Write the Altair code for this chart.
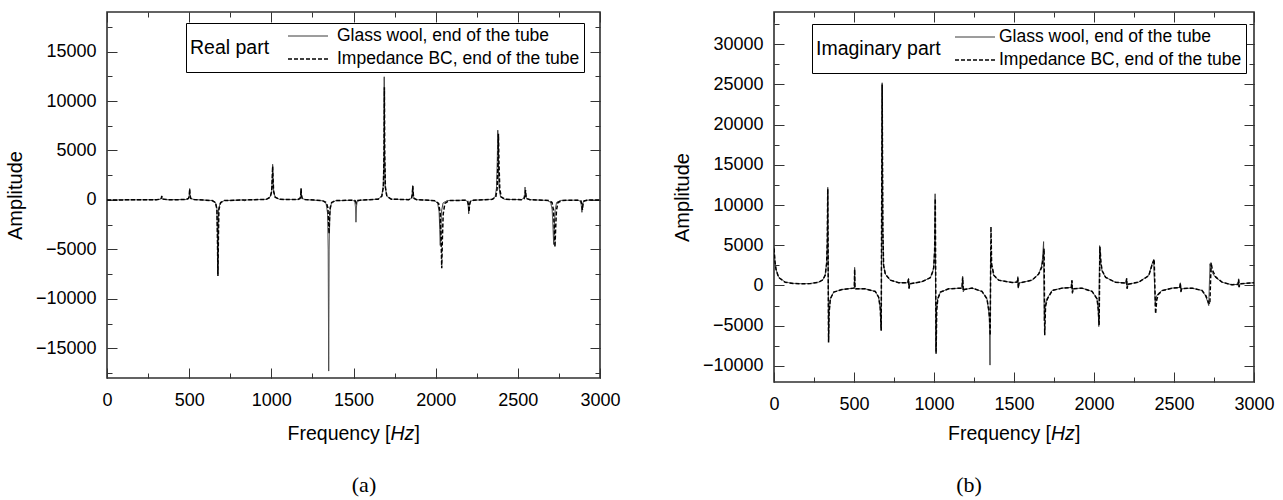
import altair as alt
import pandas as pd

SERIES = ["Glass wool, end of the tube", "Impedance BC, end of the tube"]

# axis tick positions
FREQ_MAJOR = [0, 500, 1000, 1500, 2000, 2500, 3000]
FREQ_MINOR = [0, 250, 500, 750, 1000, 1250, 1500, 1750, 2000, 2250, 2500, 2750, 3000]
RE_MAJOR = [-15000, -10000, -5000, 0, 5000, 10000, 15000]
RE_MINOR = [-17500, -15000, -12500, -10000, -7500, -5000, -2500, 0, 2500,
            5000, 7500, 10000, 12500, 15000, 17500]
IM_MAJOR = [-10000, -5000, 0, 5000, 10000, 15000, 20000, 25000, 30000]
IM_MINOR = [-10000, -7500, -5000, -2500, 0, 2500, 5000, 7500, 10000, 12500, 15000,
            17500, 20000, 22500, 25000, 27500, 30000, 32500]

# (a) real part -- glass wool at the end of the tube
re_gw_f = [0, 300, 326, 331, 333, 335, 340, 370,
           480, 496, 501, 503, 505, 510, 530,
           640, 660, 669, 672, 674, 676, 679, 690, 715,
           828, 838, 848,
           970, 993, 1002, 1006, 1008, 1010, 1014, 1023, 1050,
           1160, 1175, 1179, 1181, 1183, 1188, 1205,
           1310, 1333, 1342, 1346, 1349, 1352, 1356, 1365, 1390,
           1495, 1508, 1512, 1515, 1518, 1522, 1540,
           1650, 1672, 1681, 1685, 1687, 1689, 1693, 1702, 1730,
           1835, 1852, 1857, 1860, 1863, 1868, 1885,
           1990, 2012, 2021, 2025, 2028, 2031, 2035, 2045, 2070,
           2180, 2193, 2198, 2201, 2204, 2210, 2228,
           2340, 2362, 2370, 2375, 2378, 2381, 2386, 2395, 2420,
           2520, 2535, 2541, 2544, 2547, 2553, 2570,
           2680, 2700, 2709, 2714, 2718, 2722, 2727, 2736, 2760,
           2865, 2880, 2886, 2890, 2894, 2900, 2920, 3000]
re_gw_a = [0, 20, 80, 200, 420, 200, 80, 20,
           40, 150, 500, 1150, 500, 150, 40,
           -60, -250, -900, -3500, -7500, -3500, -900, -250, -60,
           0, -80, 0,
           60, 300, 900, 2400, 3600, 2400, 900, 300, 60,
           40, 150, 500, 1200, 500, 150, 40,
           -80, -350, -1300, -5000, -17300, -5000, -1300, -350, -80,
           -30, -150, -700, -2250, -700, -150, -30,
           80, 380, 1400, 5000, 12450, 5000, 1400, 380, 80,
           30, 150, 550, 1450, 550, 150, 30,
           -60, -300, -1200, -3000, -4600, -3000, -1200, -300, -60,
           -30, -150, -600, -1400, -600, -150, -30,
           60, 300, 1200, 4000, 7050, 4000, 1200, 300, 60,
           30, 150, 550, 1300, 550, 150, 30,
           -50, -250, -1000, -2800, -4500, -2800, -1000, -250, -50,
           -20, -120, -500, -1250, -500, -120, -20, 0]

# (a) real part -- impedance boundary condition
re_bc_f = [0, 300, 326, 331, 333, 335, 340, 370,
           480, 496, 501, 503, 505, 510, 530,
           640, 660, 669, 672, 675, 678, 681, 692, 715,
           970, 993, 1002, 1006, 1008, 1010, 1014, 1023, 1050,
           1160, 1175, 1179, 1181, 1183, 1188, 1205,
           1310, 1335, 1344, 1348, 1351, 1354, 1358, 1367, 1390,
           1495, 1508, 1513, 1516, 1519, 1525, 1540,
           1650, 1672, 1682, 1686, 1688, 1690, 1694, 1703, 1730,
           1835, 1853, 1858, 1861, 1864, 1869, 1885,
           1995, 2018, 2028, 2033, 2037, 2041, 2046, 2056, 2080,
           2180, 2195, 2200, 2203, 2206, 2212, 2230,
           2345, 2366, 2374, 2379, 2382, 2385, 2390, 2399, 2425,
           2525, 2538, 2544, 2547, 2550, 2556, 2575,
           2690, 2708, 2717, 2722, 2726, 2730, 2735, 2744, 2770,
           2870, 2884, 2889, 2893, 2897, 2903, 2925, 3000]
re_bc_a = [0, 20, 80, 190, 380, 190, 80, 20,
           40, 150, 480, 1100, 480, 150, 40,
           -60, -260, -950, -3600, -7700, -3600, -950, -260, -60,
           60, 280, 850, 2300, 3400, 2300, 850, 280, 60,
           40, 150, 480, 1100, 480, 150, 40,
           -60, -250, -800, -2000, -3400, -2000, -800, -250, -60,
           -20, -60, -150, -300, -150, -60, -20,
           80, 370, 1300, 4600, 11400, 4600, 1300, 370, 80,
           30, 150, 530, 1400, 530, 150, 30,
           -70, -350, -1400, -3800, -6900, -3800, -1400, -350, -70,
           -30, -130, -500, -1200, -500, -130, -30,
           60, 300, 1150, 3800, 6700, 3800, 1150, 300, 60,
           30, 120, 420, 1000, 420, 120, 30,
           -50, -260, -1050, -2900, -4750, -2900, -1050, -260, -50,
           -20, -100, -400, -1000, -400, -100, -20, 0]

# (b) imaginary part -- glass wool at the end of the tube
im_gw_f = [0, 6, 13, 29, 70, 120, 175, 230, 280, 305, 320, 329, 333, 336, 341, 344, 352, 373, 425,
           497, 502, 504, 506, 510, 570, 633, 654, 664, 670, 676, 680, 685, 696, 727, 779,
           836, 841, 844, 848, 925, 977, 990, 998, 1004, 1007, 1012, 1016, 1023, 1040, 1092,
           1175, 1179, 1183, 1188, 1238, 1300, 1331, 1341, 1346, 1350, 1354, 1358, 1373, 1404, 1488,
           1520, 1524, 1527, 1531, 1613, 1654, 1672, 1679, 1685, 1689, 1694, 1706, 1738, 1800,
           1858, 1862, 1865, 1870, 1925, 1988, 2019, 2026, 2030, 2035, 2042, 2050, 2071, 2133,
           2200, 2204, 2207, 2212, 2279, 2342, 2363, 2373, 2383, 2390, 2400, 2425, 2488,
           2536, 2540, 2543, 2548, 2613, 2675, 2696, 2710, 2717, 2725, 2732, 2758, 2800, 2863,
           2900, 2904, 2907, 2912, 2988, 3000]
im_gw_a = [4750, 3000, 2000, 1030, 420, 260, 220, 250, 420, 700, 1300, 2800, 5500, 12200, -7000, -3500, -1650, -830, -500,
           -330, -300, 2250, -350, -420, -420, -740, -1450, -2800, -5600, 25200, 7000, 2500, 1400, 660, 350,
           330, 900, -400, 200, 470, 970, 1600, 2200, 4500, 11400, -8200, -3000, -1650, -830, -410,
           -330, 1150, -800, -500, -330, -740, -1650, -3000, -4100, -9900, 4200, 2600, 1240, 660, 370,
           420, 1100, -330, 300, 660, 1410, 2400, 3480, 5450, -4400, -2500, -1650, -620, -330,
           -250, 660, -1000, -400, -330, -740, -1650, -3000, -5100, 4950, 2800, 1860, 1030, 410,
           300, 910, -410, 150, 410, 1240, 2690, 3100, -2500, -1400, -1030, -620, -330,
           -250, 330, -830, -400, -330, -620, -1240, -2000, -2500, 2700, 1800, 1030, 410, 80,
           150, 830, -200, 200, 330, 330]

# (b) imaginary part -- impedance boundary condition
im_bc_f = [0, 6, 13, 29, 70, 120, 175, 230, 280, 305, 320, 329, 333, 336, 341, 344, 352, 373, 425,
           497, 502, 504, 506, 510, 570, 633, 654, 664, 670, 676, 680, 685, 696, 727, 779,
           836, 841, 844, 848, 925, 977, 990, 998, 1004, 1008, 1013, 1017, 1024, 1040, 1092,
           1175, 1179, 1183, 1188, 1238, 1300, 1331, 1341, 1347, 1351, 1356, 1360, 1375, 1404, 1488,
           1520, 1524, 1527, 1531, 1613, 1654, 1674, 1682, 1688, 1692, 1697, 1709, 1740, 1800,
           1858, 1862, 1865, 1870, 1925, 1988, 2019, 2027, 2032, 2037, 2044, 2052, 2073, 2133,
           2200, 2204, 2207, 2212, 2279, 2342, 2365, 2376, 2385, 2392, 2402, 2427, 2488,
           2536, 2540, 2543, 2548, 2613, 2675, 2700, 2715, 2724, 2732, 2740, 2762, 2800, 2863,
           2900, 2904, 2907, 2912, 2988, 3000]
im_bc_a = [4600, 2950, 1950, 1000, 400, 250, 210, 240, 410, 690, 1280, 2750, 5400, 12000, -7100, -3500, -1650, -830, -500,
           -330, -300, 2000, -350, -420, -420, -740, -1450, -2800, -5600, 25000, 7000, 2500, 1400, 660, 350,
           330, 800, -350, 200, 470, 970, 1600, 2200, 4300, 10800, -8500, -3000, -1650, -830, -410,
           -330, 1000, -700, -500, -330, -740, -1650, -2900, -3900, -6200, 7300, 2700, 1240, 660, 370,
           420, 950, -300, 300, 660, 1410, 2300, 3300, 4600, -6200, -2600, -1650, -620, -330,
           -250, 600, -900, -400, -330, -740, -1650, -3000, -4900, 4800, 2700, 1800, 1000, 410,
           300, 850, -380, 150, 410, 1200, 2700, 3300, -3500, -1800, -1100, -640, -330,
           -250, 300, -750, -400, -330, -620, -1300, -2100, -2300, 2850, 1900, 1030, 410, 80,
           150, 750, -200, 200, 330, 330]


def table(f_gw, a_gw, f_bc, a_bc):
    gw = pd.DataFrame({"f": f_gw, "amp": a_gw, "series": SERIES[0]})
    bc = pd.DataFrame({"f": f_bc, "amp": a_bc, "series": SERIES[1]})
    return pd.concat([gw, bc], ignore_index=True)


FONT = "Liberation Sans"
TICK_COLOR = "#333333"


def axis(orient, values, size, labels=False, **kw):
    # ticks point into the plot: the axis is shifted inwards by its tick length
    return alt.Axis(orient=orient, values=values, tickSize=size, offset=-size,
                    labels=labels, domain=False, grid=False, tickColor=TICK_COLOR,
                    tickWidth=1, title=None if "title" not in kw else kw.pop("title"),
                    labelFont=FONT, labelFontSize=18, labelColor="#000000",
                    labelFlush=False, format="d", **kw)


def panel(df, legend_title, y_domain, y_major, y_minor, width, height,
          legend_x, legend_y, title_pad, label_off, tag, tag_x):
    xs = alt.Scale(domain=[0, 3000], nice=False, zero=False)
    ys = alt.Scale(domain=y_domain, nice=False, zero=False)

    legend = alt.Legend(
        title=legend_title, orient="none", legendX=legend_x, legendY=legend_y,
        titleOrient="left", titleAnchor="middle", titleBaseline="middle",
        titleFont=FONT, titleFontSize=19.5, titleFontWeight="normal",
        titleColor="#000000", titlePadding=title_pad,
        labelFont=FONT, labelFontSize=17.5, labelColor="#000000",
        labelLimit=400, labelOffset=label_off,
        symbolType="stroke", symbolSize=1600, clipHeight=18, rowPadding=5,
        padding=4, strokeColor="#000000", fillColor="#ffffff", cornerRadius=0,
    )

    lines = alt.Chart(df).mark_line(clip=True).encode(
        x=alt.X("f:Q", scale=xs,
                axis=axis("bottom", FREQ_MAJOR, 10, labels=True, labelPadding=13)),
        y=alt.Y("amp:Q", scale=ys,
                axis=axis("left", y_major, 10, labels=True, labelPadding=11,
                          title="Amplitude", titleFont=FONT, titleFontSize=20,
                          titleFontWeight="normal", titleColor="#000000",
                          titlePadding=10)),
        color=alt.Color("series:N", legend=legend,
                        scale=alt.Scale(domain=SERIES, range=["#3a3a3a", "#000000"])),
        strokeDash=alt.StrokeDash("series:N", legend=legend,
                                  scale=alt.Scale(domain=SERIES, range=[[1, 0], [4, 2]])),
        strokeWidth=alt.StrokeWidth("series:N", legend=legend,
                                    scale=alt.Scale(domain=SERIES, range=[1.0, 1.5])),
    )

    def ghost(x_axis, y_axis):
        return alt.Chart(df).mark_line(strokeOpacity=0).encode(
            x=alt.X("f:Q", scale=xs, axis=x_axis),
            y=alt.Y("amp:Q", scale=ys, axis=y_axis),
        )

    minor = ghost(axis("bottom", FREQ_MINOR, 5), axis("left", y_minor, 5))
    top_right = ghost(axis("top", FREQ_MAJOR, 10), axis("right", y_major, 10))
    top_right_minor = ghost(axis("top", FREQ_MINOR, 5), axis("right", y_minor, 5))

    def text(s, x, y, **kw):
        return alt.Chart(alt.Data(values=[{"t": s}])).mark_text(
            baseline="alphabetic", color="#000000", **kw
        ).encode(x=alt.value(x), y=alt.value(y), text="t:N")

    hz_x = width / 2 + 37
    xtitle = [
        text("Frequency [", hz_x, 428, align="right", font=FONT, fontSize=19.5),
        text("Hz", hz_x, 428, align="left", font=FONT, fontSize=19.5, fontStyle="italic"),
        text("]", hz_x + 24, 428, align="left", font=FONT, fontSize=19.5),
    ]
    caption = text(tag, tag_x, 480, align="center", font="Liberation Serif", fontSize=22)

    return alt.layer(lines, minor, top_right, top_right_minor, *xtitle, caption).resolve_axis(
        x="independent", y="independent"
    ).properties(width=width, height=height)


real = panel(table(re_gw_f, re_gw_a, re_bc_f, re_bc_a), "Real part",
             [-18000, 19000], RE_MAJOR, RE_MINOR, 493, 366,
             79, 11, 17, 8, "(a)", 257)
imag = panel(table(im_gw_f, im_gw_a, im_bc_f, im_bc_a), "Imaginary part",
             [-12000, 34000], IM_MAJOR, IM_MINOR, 480, 370,
             38, 12, 13, 3, "(b)", 195)

chart = alt.hconcat(real, imag, spacing=50).resolve_scale(
    color="independent", strokeDash="independent", strokeWidth="independent"
).resolve_legend(
    color="independent", strokeDash="independent", strokeWidth="independent"
).configure(
    font=FONT, padding={"left": 4, "top": 10, "right": 5, "bottom": 5}
).configure_view(
    stroke="#303030", strokeWidth=1.6
)

chart.save("out.html", embed_options={"renderer": "svg", "actions": False})
